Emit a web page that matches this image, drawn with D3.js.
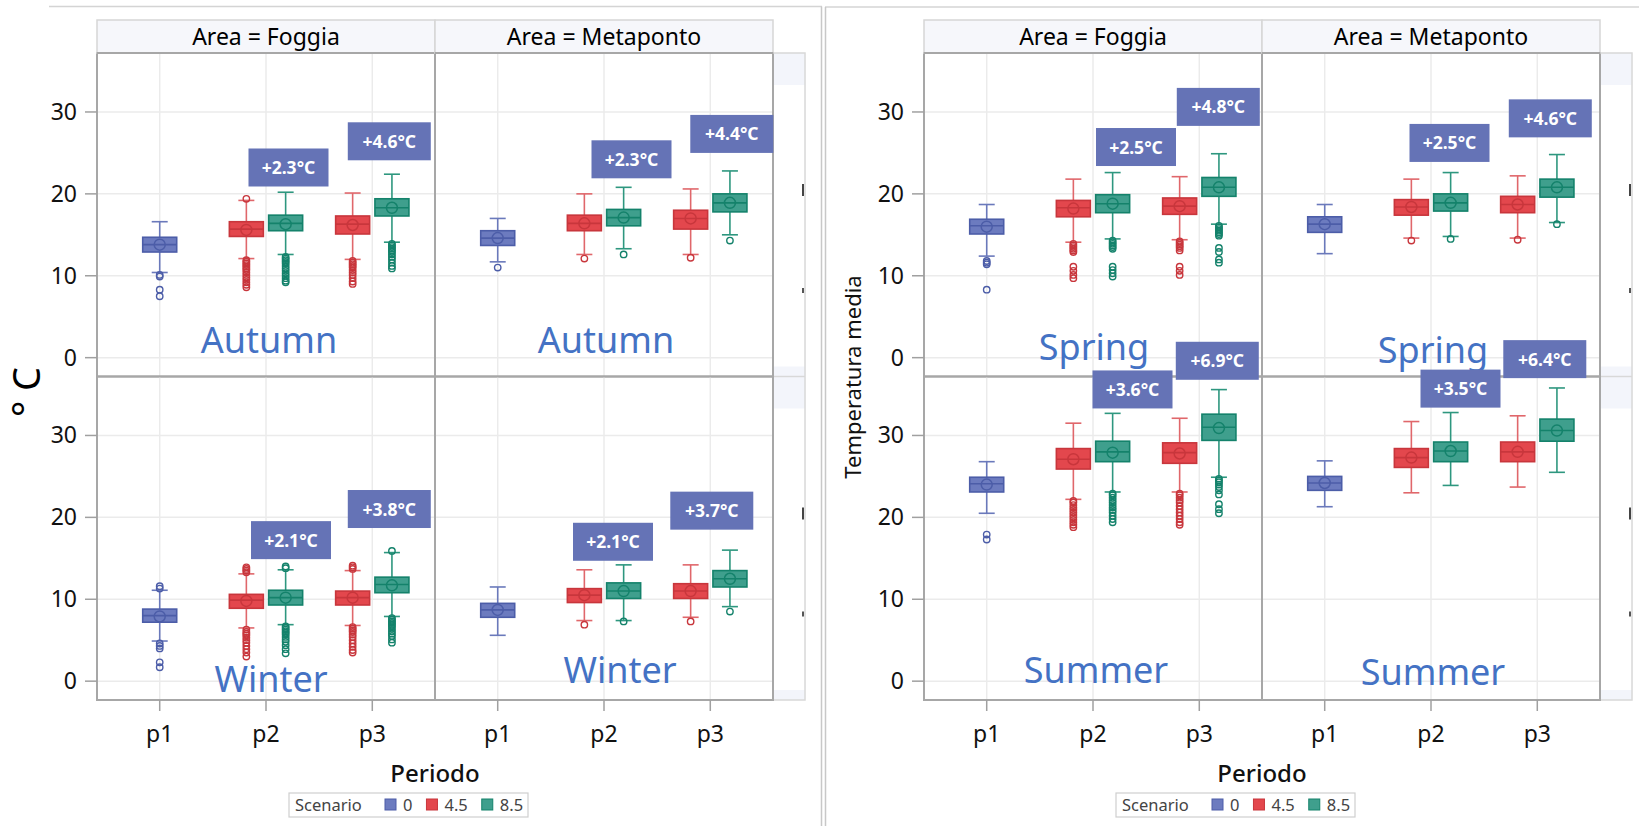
<!DOCTYPE html>
<html>
<head>
<meta charset="utf-8">
<script src="https://cdnjs.cloudflare.com/ajax/libs/d3/7.8.5/d3.min.js"></script>
<style>
  html, body { margin: 0; padding: 0; background: #fff; }
  svg { display: block; font-family: "Noto Sans", "Open Sans", sans-serif; }
</style>
</head>
<body>
<svg id="chart" width="1639" height="826"></svg>
<script>
// ---- categories ----
const areas = ["Foggia", "Metaponto"];
const periods = ["p1", "p2", "p3"];
const scenarios = ["0", "4.5", "8.5"];
const yTicks = [0, 10, 20, 30];
const leftSeasons = ["Autumn", "Winter"];
const rightSeasons = ["Spring", "Summer"];

// ---- box statistics (°C) ----
// [area, period, scenario, low whisker, Q1, median, mean, Q3, high whisker, outliers]
const autumnBoxes = [
  ["Foggia", "p1", "0",   10.4, 12.9, 13.8, 13.8, 14.7, 16.6, [10.1, 9.9, 8.3, 7.5]],
  ["Foggia", "p2", "4.5", 12.1, 14.8, 15.7, 15.6, 16.6, 19.2, [19.4, 11.9, 11.7, 11.5, 11.3, 11.1, 10.9, 10.7, 10.4, 10.1, 9.8, 9.5, 9.2, 8.9, 8.6]],
  ["Foggia", "p2", "8.5", 12.6, 15.5, 16.4, 16.3, 17.4, 20.2, [12.3, 12.1, 11.9, 11.7, 11.5, 11.2, 10.9, 10.6, 10.3, 10.0, 9.7, 9.4, 9.2]],
  ["Foggia", "p3", "4.5", 12.0, 15.1, 16.3, 16.2, 17.3, 20.1, [11.8, 11.6, 11.4, 11.2, 11.0, 10.7, 10.4, 10.1, 9.7, 9.3, 9.0]],
  ["Foggia", "p3", "8.5", 14.1, 17.3, 18.3, 18.3, 19.4, 22.4, [13.9, 13.7, 13.5, 13.3, 13.1, 12.9, 12.6, 12.3, 12.0, 11.6, 11.2, 10.9]],
  ["Metaponto", "p1", "0",   11.7, 13.7, 14.6, 14.6, 15.5, 17.0, [11.0]],
  ["Metaponto", "p2", "4.5", 12.6, 15.5, 16.4, 16.4, 17.4, 20.0, [12.1]],
  ["Metaponto", "p2", "8.5", 13.3, 16.1, 17.1, 17.1, 18.1, 20.8, [12.6]],
  ["Metaponto", "p3", "4.5", 12.6, 15.7, 17.0, 17.0, 18.0, 20.6, [12.2]],
  ["Metaponto", "p3", "8.5", 15.0, 17.8, 18.9, 18.9, 20.0, 22.8, [14.3]]
];

const winterBoxes = [
  ["Foggia", "p1", "0",   4.9, 7.2, 8.0, 7.9, 8.8, 11.1, [11.3, 11.6, 4.6, 4.3, 4.0, 2.3, 1.7]],
  ["Foggia", "p2", "4.5", 6.5, 8.9, 9.9, 9.8, 10.6, 13.1, [13.3, 13.5, 13.7, 13.9, 6.3, 6.0, 5.8, 5.6, 5.3, 5.0, 4.7, 4.3, 3.9, 3.5, 3.0]],
  ["Foggia", "p2", "8.5", 6.9, 9.3, 10.2, 10.2, 11.1, 13.6, [13.8, 14.0, 6.7, 6.5, 6.3, 6.1, 5.9, 5.7, 5.4, 5.1, 4.8, 4.4, 3.9, 3.4]],
  ["Foggia", "p3", "4.5", 6.8, 9.3, 10.2, 10.2, 11.0, 13.5, [13.7, 13.9, 14.1, 6.6, 6.4, 6.2, 6.0, 5.7, 5.4, 5.0, 4.6, 4.2, 3.8, 3.5]],
  ["Foggia", "p3", "8.5", 7.9, 10.8, 11.8, 11.7, 12.7, 15.7, [15.9, 7.7, 7.5, 7.3, 7.1, 6.9, 6.7, 6.4, 6.1, 5.8, 5.5, 5.1, 4.7]],
  ["Metaponto", "p1", "0",   5.6, 7.8, 8.7, 8.7, 9.5, 11.5, []],
  ["Metaponto", "p2", "4.5", 7.4, 9.6, 10.5, 10.5, 11.3, 13.6, [6.9]],
  ["Metaponto", "p2", "8.5", 7.4, 10.1, 11.0, 11.0, 12.0, 14.2, [7.3]],
  ["Metaponto", "p3", "4.5", 7.8, 10.1, 11.0, 11.0, 11.9, 14.2, [7.3]],
  ["Metaponto", "p3", "8.5", 9.1, 11.5, 12.5, 12.5, 13.5, 16.0, [8.5]]
];

const springBoxes = [
  ["Foggia", "p1", "0",   12.4, 15.1, 16.1, 16.0, 16.9, 18.7, [11.8, 11.6, 11.4, 8.3]],
  ["Foggia", "p2", "4.5", 14.1, 17.2, 18.3, 18.2, 19.2, 21.8, [13.9, 13.7, 13.5, 13.3, 13.1, 12.9, 11.1, 10.6, 10.1, 9.7]],
  ["Foggia", "p2", "8.5", 14.5, 17.7, 18.8, 18.8, 19.9, 22.6, [14.3, 14.1, 13.9, 13.7, 13.5, 13.3, 11.1, 10.7, 10.3, 9.9]],
  ["Foggia", "p3", "4.5", 14.4, 17.5, 18.5, 18.5, 19.5, 22.1, [14.2, 14.0, 13.8, 13.6, 13.4, 13.1, 11.1, 10.6, 10.1]],
  ["Foggia", "p3", "8.5", 16.3, 19.7, 20.8, 20.8, 22.0, 24.9, [16.1, 15.9, 15.7, 15.5, 15.3, 15.1, 14.9, 13.4, 12.9, 12.0, 11.6]],
  ["Metaponto", "p1", "0",   12.7, 15.3, 16.3, 16.3, 17.2, 18.7, []],
  ["Metaponto", "p2", "4.5", 14.6, 17.4, 18.4, 18.4, 19.3, 21.8, [14.3]],
  ["Metaponto", "p2", "8.5", 14.8, 17.9, 18.9, 18.9, 20.0, 22.6, [14.5]],
  ["Metaponto", "p3", "4.5", 14.6, 17.7, 18.7, 18.7, 19.7, 22.2, [14.4]],
  ["Metaponto", "p3", "8.5", 16.5, 19.6, 20.8, 20.8, 21.8, 24.8, [16.3]]
];

const summerBoxes = [
  ["Foggia", "p1", "0",   20.5, 23.1, 24.1, 24.0, 24.9, 26.8, [17.9, 17.3]],
  ["Foggia", "p2", "4.5", 22.2, 25.9, 27.1, 27.1, 28.4, 31.5, [22.0, 21.8, 21.5, 21.2, 20.9, 20.6, 20.3, 20.0, 19.7, 19.4, 19.1, 18.8]],
  ["Foggia", "p2", "8.5", 23.1, 26.8, 28.0, 27.9, 29.3, 32.7, [22.9, 22.7, 22.4, 22.1, 21.8, 21.5, 21.2, 20.9, 20.6, 20.2, 19.8, 19.4]],
  ["Foggia", "p3", "4.5", 23.1, 26.6, 27.9, 27.8, 29.1, 32.1, [22.9, 22.7, 22.4, 22.1, 21.8, 21.4, 21.0, 20.6, 20.2, 19.8, 19.4, 19.1]],
  ["Foggia", "p3", "8.5", 24.9, 29.4, 31.0, 30.9, 32.6, 35.6, [24.7, 24.5, 24.3, 24.0, 23.7, 23.3, 22.8, 21.6, 21.0, 20.5]],
  ["Metaponto", "p1", "0",   21.3, 23.3, 24.2, 24.2, 25.0, 26.9, []],
  ["Metaponto", "p2", "4.5", 23.0, 26.1, 27.3, 27.3, 28.4, 31.7, []],
  ["Metaponto", "p2", "8.5", 23.9, 26.8, 28.1, 28.1, 29.2, 32.8, []],
  ["Metaponto", "p3", "4.5", 23.7, 26.8, 28.0, 28.0, 29.2, 32.4, []],
  ["Metaponto", "p3", "8.5", 25.5, 29.3, 30.6, 30.6, 32.0, 35.8, []]
];

// ---- warming labels: [area, period, text, base of label (°C)] ----
const autumnNotes = [
  ["Foggia", "p2", "+2.3°C", 20.9], ["Foggia", "p3", "+4.6°C", 24.1],
  ["Metaponto", "p2", "+2.3°C", 21.9], ["Metaponto", "p3", "+4.4°C", 25.0]
];
const winterNotes = [
  ["Foggia", "p2", "+2.1°C", 14.9], ["Foggia", "p3", "+3.8°C", 18.7],
  ["Metaponto", "p2", "+2.1°C", 14.7], ["Metaponto", "p3", "+3.7°C", 18.5]
];
const springNotes = [
  ["Foggia", "p2", "+2.5°C", 23.4], ["Foggia", "p3", "+4.8°C", 28.3],
  ["Metaponto", "p2", "+2.5°C", 23.9], ["Metaponto", "p3", "+4.6°C", 26.9]
];
const summerNotes = [
  ["Foggia", "p2", "+3.6°C", 33.3], ["Foggia", "p3", "+6.9°C", 36.8],
  ["Metaponto", "p2", "+3.5°C", 33.4], ["Metaponto", "p3", "+6.4°C", 37.0]
];

const boxesBySeason = { Autumn: autumnBoxes, Winter: winterBoxes, Spring: springBoxes, Summer: summerBoxes };
const notesBySeason = { Autumn: autumnNotes, Winter: winterNotes, Spring: springNotes, Summer: summerNotes };

// ---- layout & style ----
const layout = {
  panelLeft: 97, panelW: 338, top: 53, rowH: 323.5, headerTop: 20,
  stripW: 32, boxW: 34, capW: 16, yDomain: [-2.3, 37.2]
};
// horizontal nudge of each warming label from its period (px), same order as the notes
const noteNudge = {
  Autumn: [22.5, 17, 27.5, 21.5], Winter: [25, 17, 9, 1.5],
  Spring: [43, 19, 18.5, 13], Summer: [39.5, 18, 29.5, 7.5]
};
// season caption placement: [dx from panel centre, baseline from row top]
const captionPos = {
  Autumn: [[3, 300], [2, 300]], Winter: [[5, 315], [16, 306]],
  Spring: [[1, 307], [2, 310]], Summer: [[3, 306], [2, 308]]
};
const colors = {
  "0":   { fill: "#6c7bbf", line: "#4c5da8", whisker: "#6a79bb" },
  "4.5": { fill: "#e3474d", line: "#c8363c", whisker: "#e0676b" },
  "8.5": { fill: "#3f9f8d", line: "#14826b", whisker: "#2e977f" }
};

const svg = d3.select("#chart");
svg.append("rect").attr("width", 1639).attr("height", 826).attr("fill", "#fff");

function drawGraph(offsetX, seasons, frame) {
  const g = svg.append("g").attr("transform", `translate(${offsetX},0)`);
  const L = layout;
  const x = d3.scalePoint().domain(periods).range([0, L.panelW]).padding(0.59);
  const cluster = d3.scaleBand().domain(["4.5", "8.5"]).range([-38.5, 38.5]).paddingInner(0.04);
  const xOf = (period, scen) => x(period) + (scen === "0" ? 0 : cluster(scen) + cluster.bandwidth() / 2);
  const panelX = i => L.panelLeft + i * L.panelW;
  const rowTop = r => L.top + r * L.rowH;
  const yRow = r => d3.scaleLinear().domain(L.yDomain).range([rowTop(r) + L.rowH, rowTop(r)]);
  const right = panelX(areas.length);
  const bottom = rowTop(seasons.length);

  // graph frame
  g.append("line").attr("x1", frame.left).attr("x2", frame.right).attr("y1", frame.top).attr("y2", frame.top)
    .attr("stroke", "#d4d4d4").attr("stroke-width", 1.5);
  g.append("line").attr("x1", frame.vx).attr("x2", frame.vx).attr("y1", frame.top).attr("y2", 826)
    .attr("stroke", "#c8c8c8").attr("stroke-width", 1.5);

  // row-header strip on the right
  const strip = g.append("g");
  seasons.forEach((s, r) => {
    strip.append("rect").attr("x", right).attr("y", rowTop(r)).attr("width", L.stripW).attr("height", 32).attr("fill", "#f3f5fb");
    strip.append("rect").attr("x", right).attr("y", rowTop(r) + L.rowH - 10).attr("width", L.stripW).attr("height", 10).attr("fill", "#f3f5fb");
    strip.append("rect").attr("x", right + L.stripW - 3).attr("y", rowTop(r) + 131).attr("width", 2).attr("height", 12).attr("fill", "#444");
    strip.append("rect").attr("x", right + L.stripW - 3).attr("y", rowTop(r) + 235).attr("width", 2).attr("height", 5).attr("fill", "#555");
  });
  strip.append("rect").attr("x", right).attr("y", L.top).attr("width", L.stripW).attr("height", bottom - L.top)
    .attr("fill", "none").attr("stroke", "#d8d8d8").attr("stroke-width", 1.5);
  strip.append("line").attr("x1", right).attr("x2", right + L.stripW).attr("y1", rowTop(1)).attr("y2", rowTop(1))
    .attr("stroke", "#d8d8d8").attr("stroke-width", 1.5);

  seasons.forEach((season, r) => {
    const y = yRow(r);
    areas.forEach((area, i) => {
      const p = g.append("g").attr("transform", `translate(${panelX(i)},0)`);
      // grid
      p.selectAll(".hg").data(yTicks).join("line")
        .attr("x1", 0).attr("x2", L.panelW).attr("y1", d => y(d)).attr("y2", d => y(d))
        .attr("stroke", "#ebebeb").attr("stroke-width", 1.5);
      p.selectAll(".vg").data(periods).join("line")
        .attr("x1", d => x(d)).attr("x2", d => x(d)).attr("y1", rowTop(r)).attr("y2", rowTop(r) + L.rowH)
        .attr("stroke", "#ebebeb").attr("stroke-width", 1.5);

      // boxes
      const rows = boxesBySeason[season].filter(b => b[0] === area);
      rows.forEach(b => {
        const [, period, scen, lo, q1, med, mean, q3, hi, outs] = b;
        const c = colors[scen];
        const cx = xOf(period, scen);
        const bg = p.append("g");
        bg.append("line").attr("x1", cx).attr("x2", cx).attr("y1", y(hi)).attr("y2", y(q3))
          .attr("stroke", c.whisker).attr("stroke-width", 1.6);
        bg.append("line").attr("x1", cx).attr("x2", cx).attr("y1", y(q1)).attr("y2", y(lo))
          .attr("stroke", c.whisker).attr("stroke-width", 1.6);
        [hi, lo].forEach(v => bg.append("line")
          .attr("x1", cx - L.capW / 2).attr("x2", cx + L.capW / 2).attr("y1", y(v)).attr("y2", y(v))
          .attr("stroke", c.whisker).attr("stroke-width", 1.6));
        bg.append("rect").attr("x", cx - L.boxW / 2).attr("y", y(q3)).attr("width", L.boxW)
          .attr("height", y(q1) - y(q3)).attr("fill", c.fill).attr("stroke", c.line).attr("stroke-width", 1.6);
        bg.append("line").attr("x1", cx - L.boxW / 2).attr("x2", cx + L.boxW / 2).attr("y1", y(med)).attr("y2", y(med))
          .attr("stroke", c.line).attr("stroke-width", 1.6);
        bg.append("circle").attr("cx", cx).attr("cy", y(mean)).attr("r", 5.5)
          .attr("fill", "none").attr("stroke", c.line).attr("stroke-width", 1.5);
        bg.selectAll(".o").data(outs).join("circle")
          .attr("cx", cx).attr("cy", d => y(d)).attr("r", 3.2)
          .attr("fill", "none").attr("stroke", c.line).attr("stroke-width", 1.4);
      });

      // panel border
      p.append("rect").attr("x", 0).attr("y", rowTop(r)).attr("width", L.panelW).attr("height", L.rowH)
        .attr("fill", "none").attr("stroke", "#a7a7a7").attr("stroke-width", 2);
    });

    // y axis on the first column
    const ax = g.append("g");
    ax.selectAll("line").data(yTicks).join("line")
      .attr("x1", L.panelLeft - 12).attr("x2", L.panelLeft).attr("y1", d => y(d)).attr("y2", d => y(d))
      .attr("stroke", "#a0a0a0").attr("stroke-width", 1.5);
    ax.selectAll("text").data(yTicks).join("text")
      .attr("x", L.panelLeft - 20).attr("y", d => y(d) + 8).attr("text-anchor", "end")
      .attr("font-size", 23).attr("fill", "#111").text(d => d);
  });

  // column headers
  areas.forEach((area, i) => {
    g.append("rect").attr("x", panelX(i)).attr("y", L.headerTop).attr("width", L.panelW).attr("height", L.top - L.headerTop)
      .attr("fill", "#f6f7fb").attr("stroke", "#d6d6d6").attr("stroke-width", 1.5);
    g.append("text").attr("x", panelX(i) + L.panelW / 2).attr("y", L.top - 8).attr("text-anchor", "middle")
      .attr("font-size", 23).attr("fill", "#000").text(`Area = ${area}`);
    g.append("line").attr("x1", panelX(i)).attr("x2", panelX(i) + L.panelW).attr("y1", L.top).attr("y2", L.top)
      .attr("stroke", "#a7a7a7").attr("stroke-width", 2);
  });

  // x axis under the last row
  areas.forEach((area, i) => {
    const xa = g.append("g").attr("transform", `translate(${panelX(i)},0)`);
    xa.selectAll("line").data(periods).join("line")
      .attr("x1", d => x(d)).attr("x2", d => x(d)).attr("y1", bottom).attr("y2", bottom + 11)
      .attr("stroke", "#a0a0a0").attr("stroke-width", 1.5);
    xa.selectAll("text").data(periods).join("text")
      .attr("x", d => x(d)).attr("y", bottom + 42).attr("text-anchor", "middle")
      .attr("font-size", 23).attr("fill", "#111").text(d => d);
  });
  g.append("text").attr("x", panelX(1)).attr("y", bottom + 82).attr("text-anchor", "middle")
    .attr("font-size", 24).attr("font-weight", 500).attr("fill", "#111").text("Periodo");

  // legend
  const lg = g.append("g").attr("transform", "translate(289,793)");
  lg.append("rect").attr("width", 239).attr("height", 24).attr("fill", "#fff")
    .attr("stroke", "#cfcfcf").attr("stroke-width", 1.2);
  lg.append("text").attr("x", 6).attr("y", 18).attr("font-size", 16.5).attr("fill", "#444").text("Scenario");
  let lx = 96;
  scenarios.forEach(s => {
    lg.append("rect").attr("x", lx).attr("y", 6).attr("width", 11).attr("height", 11)
      .attr("fill", colors[s].fill).attr("stroke", colors[s].line).attr("stroke-width", 1);
    const t = lg.append("text").attr("x", lx + 18).attr("y", 18).attr("font-size", 16.5).attr("fill", "#444").text(s);
    lx += 18 + t.node().getComputedTextLength() + 14;
  });

  // season captions and warming labels on top
  seasons.forEach((season, r) => {
    const y = yRow(r);
    areas.forEach((area, i) => {
      const [dx, by] = captionPos[season][i];
      g.append("text").attr("x", panelX(i) + L.panelW / 2 + dx).attr("y", rowTop(r) + by)
        .attr("text-anchor", "middle").attr("font-size", 36).attr("fill", "#4472c4").text(season);
    });
    notesBySeason[season].forEach((n, k) => {
      const [area, period, label, base] = n;
      const i = areas.indexOf(area);
      const w = period === "p3" ? 83 : 80, h = 38;
      const cx = panelX(i) + x(period) + noteNudge[season][k];
      const yb = y(base);
      g.append("rect").attr("x", cx - w / 2).attr("y", yb - h).attr("width", w).attr("height", h).attr("fill", "#6573b6");
      g.append("text").attr("x", cx).attr("y", yb - h / 2 + 6.5).attr("text-anchor", "middle")
        .attr("font-size", 17.5).attr("font-weight", 700).attr("fill", "#fff").text(label);
    });
  });
  return g;
}

drawGraph(0, leftSeasons, { left: 49, right: 822, top: 6.5, vx: 821.5 });
drawGraph(827, rightSeasons, { left: -2, right: 812, top: 7, vx: -1.5 });

// axis titles
svg.append("text").attr("transform", "translate(40,392) rotate(-90)").attr("text-anchor", "middle")
  .attr("font-size", 38).attr("fill", "#000").text("° C");
svg.append("text").attr("transform", "translate(861,377) rotate(-90)").attr("text-anchor", "middle")
  .attr("font-size", 22).attr("fill", "#111").text("Temperatura media");
</script>
</body>
</html>
